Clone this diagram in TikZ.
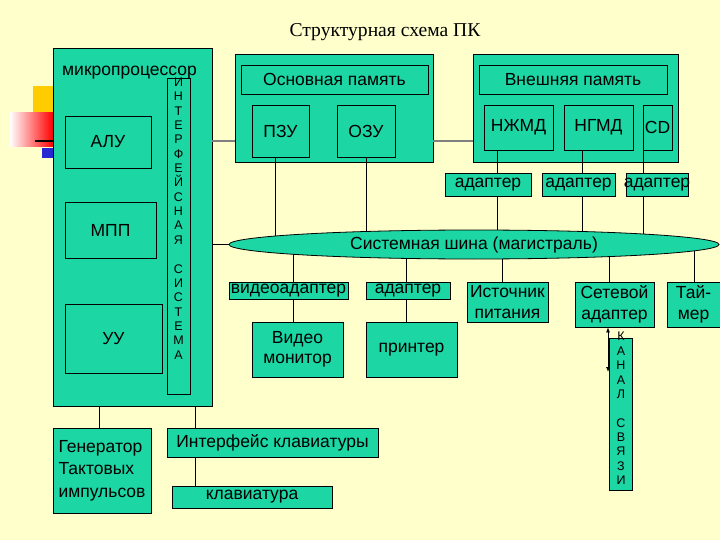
\documentclass[tikz,border=0pt]{standalone}
\usepackage{fontspec}
\setmainfont{Liberation Serif}
\newfontfamily\arialf{Liberation Sans}
\usetikzlibrary{arrows.meta,shapes.geometric}
\definecolor{bgy}{RGB}{255,255,204}
\definecolor{teal1}{RGB}{28,214,164}
\definecolor{decoyellow}{RGB}{255,204,0}
\definecolor{decoblue}{RGB}{40,40,210}
\begin{document}
\begin{tikzpicture}[x=1pt,y=-1pt,
  box/.style={draw=black, fill=teal1, line width=0.8pt, inner sep=0pt,
    font=\arialf\fontsize{17.5}{20.5}\selectfont, align=center},
  vtext/.style={font=\arialf\fontsize{12.5}{14.37}\selectfont, align=center, inner sep=0pt},
  conn/.style={draw=black, line width=0.8pt},
  grayconn/.style={draw=gray, line width=2pt}]
\useasboundingbox (0,0) rectangle (720,540);
\fill[bgy] (0,0) rectangle (720,540);
% decoration
\fill[decoyellow] (33,86) rectangle (53,113);
\shade[left color=white, right color=red] (10,113) rectangle (53,147);
\draw[line width=2pt] (35,141) -- (53,141);
\fill[decoblue] (42,148) rectangle (53,158);
% title
\node[font=\fontsize{19.6}{22}\selectfont, inner sep=0pt] (title) at (385,32) {Структурная схема ПК};
% microprocessor
\node[box, minimum width=159pt, minimum height=358pt] (mp) at (132.5,227) {};
\node[box, minimum width=86pt, minimum height=52pt] (alu) at (108,142) {АЛУ};
\node[box, minimum width=91pt, minimum height=56pt] (mpp) at (110.5,230) {МПП};
\node[box, minimum width=97pt, minimum height=69pt] (uu) at (113.5,338.5) {УУ};
\node[box, minimum width=23pt, minimum height=316pt] (iface) at (178.5,236) {};
\node[vtext] (ifacetxt) at (178.5,218.5) {И\\Н\\Т\\Е\\Р\\Ф\\Е\\Й\\С\\Н\\А\\Я\\\mbox{}\\С\\И\\С\\Т\\Е\\М\\А};
\node[anchor=base west, inner sep=0pt, font=\arialf\fontsize{17.5}{20}\selectfont] (mplabel) at (62,76) {микропроцессор};
% main memory
\node[box, minimum width=198pt, minimum height=108pt] (op) at (334,108) {};
\node[box, minimum width=187pt, minimum height=29pt] (optitle) at (334.5,79.5) {Основная память};
\node[box, minimum width=57pt, minimum height=52pt] (pzu) at (280.5,131) {ПЗУ};
\node[box, minimum width=58pt, minimum height=52pt] (ozu) at (366,131) {ОЗУ};
% external memory
\node[box, minimum width=205pt, minimum height=108pt] (vp) at (575.5,108) {};
\node[box, minimum width=188pt, minimum height=29pt] (vptitle) at (573,79.5) {Внешняя память};
\node[box, minimum width=69pt, minimum height=45pt] (nzmd) at (518.5,127.5) {НЖМД};
\node[box, minimum width=69pt, minimum height=45pt] (ngmd) at (598.5,127.5) {НГМД};
\node[box, minimum width=29pt, minimum height=45pt] (cd) at (657.5,127.5) {CD};
\node[box, minimum width=86pt, minimum height=23pt] (a1) at (488,184.5) {адаптер};
\node[box, minimum width=73pt, minimum height=23pt] (a2) at (578.5,184.5) {\makebox[0pt]{адаптер}};
\node[box, minimum width=62pt, minimum height=23pt] (a3) at (657,184.5) {\makebox[0pt]{адаптер}};
% lower row
\node[box, minimum width=119pt, minimum height=17pt] (vadapt) at (288.5,290.5) {\makebox[0pt]{видеоадаптер}};
\node[box, minimum width=84pt, minimum height=17pt] (padapt) at (408,290.5) {адаптер};
\node[box, minimum width=91pt, minimum height=55pt] (monitor) at (297.5,349.5) {Видео\\монитор};
\node[box, minimum width=91pt, minimum height=55pt] (printer) at (411.5,349.5) {принтер};
\node[box, minimum width=81pt, minimum height=40pt] (power) at (507.5,302) {\makebox[0pt]{Источник}\\питания};
\node[box, minimum width=79pt, minimum height=45pt] (net) at (614.5,304.5) {Сетевой\\\makebox[0pt]{адаптер}};
\node[box, minimum width=53pt, minimum height=45pt] (timer) at (693.5,304.5) {Тай-\\мер};
% bottom
\node[box, minimum width=98pt, minimum height=85pt, align=left, font=\arialf\fontsize{17.5}{22.5}\selectfont] (gen) at (102,470.5) {Генератор\\Тактовых\\импульсов};
\node[box, minimum width=211pt, minimum height=29pt] (kbif) at (272.5,442.5) {Интерфейс клавиатуры};
\node[box, minimum width=160pt, minimum height=22pt] (kb) at (252,497) {клавиатура};
% bus tap coordinates
\coordinate (t1) at (275.5,244.5);
\coordinate (t2) at (366,244.5);
\coordinate (t3) at (497,244.5);
\coordinate (t4) at (582,244.5);
\coordinate (t5) at (643,244.5);
\coordinate (b1) at (293,244.5);
\coordinate (b2) at (406,244.5);
\coordinate (b3) at (502,244.5);
\coordinate (b4) at (609,244.5);
\coordinate (b5) at (694,244.5);
\coordinate (gl) at (0,141);
\coordinate (c1) at (99,0);
\coordinate (c2) at (195,0);
\coordinate (arrend) at (608,372);
% connectors
\draw[grayconn] (mp.east |- gl) -- (op.west |- gl);
\draw[grayconn] (op.east |- gl) -- (vp.west |- gl);
\draw[conn] (pzu.south -| t1) -- (t1);
\draw[conn] (ozu.south -| t2) -- (t2);
\draw[conn] (nzmd.south -| t3) -- (a1.north -| t3);
\draw[conn] (a1.south -| t3) -- (t3);
\draw[conn] (ngmd.south -| t4) -- (a2.north -| t4);
\draw[conn] (a2.south -| t4) -- (t4);
\draw[conn] (cd.south -| t5) -- (a3.north -| t5);
\draw[conn] (a3.south -| t5) -- (t5);
\draw[conn] (b1) -- (vadapt.north -| b1);
\draw[conn] (vadapt.south -| b1) -- (monitor.north -| b1);
\draw[conn] (b2) -- (padapt.north -| b2);
\draw[conn] (padapt.south -| b2) -- (printer.north -| b2);
\draw[conn] (b3) -- (power.north -| b3);
\draw[conn] (b4) -- (net.north -| b4);
\draw[conn] (b5) -- (timer.north -| b5);
\draw[conn] (mp.south -| c1) -- (gen.north -| c1);
\draw[conn] (mp.south -| c2) -- (kbif.north -| c2);
\draw[conn] (kbif.south -| c2) -- (kb.north -| c2);
\draw[conn, {Latex[length=5pt,width=4pt]}-{Latex[length=5pt,width=4pt]}] (net.south -| arrend) -- (arrend);
% bus
\node[draw=black, fill=teal1, line width=0.8pt, ellipse, minimum width=490pt, minimum height=29pt, inner sep=0pt,
  font=\arialf\fontsize{17.5}{20}\selectfont] (bus) at (474,244.5) {Системная шина (магистраль)};
\draw[conn] (mp.east |- bus.west) -- (bus.west);
% channel
\node[box, minimum width=23pt, minimum height=152pt] (kanal) at (620.5,414) {};
\node[vtext] (kanaltxt) at (621,408.5) {К\\А\\Н\\А\\Л\\\mbox{}\\С\\В\\Я\\З\\И};
\end{tikzpicture}
\end{document}
